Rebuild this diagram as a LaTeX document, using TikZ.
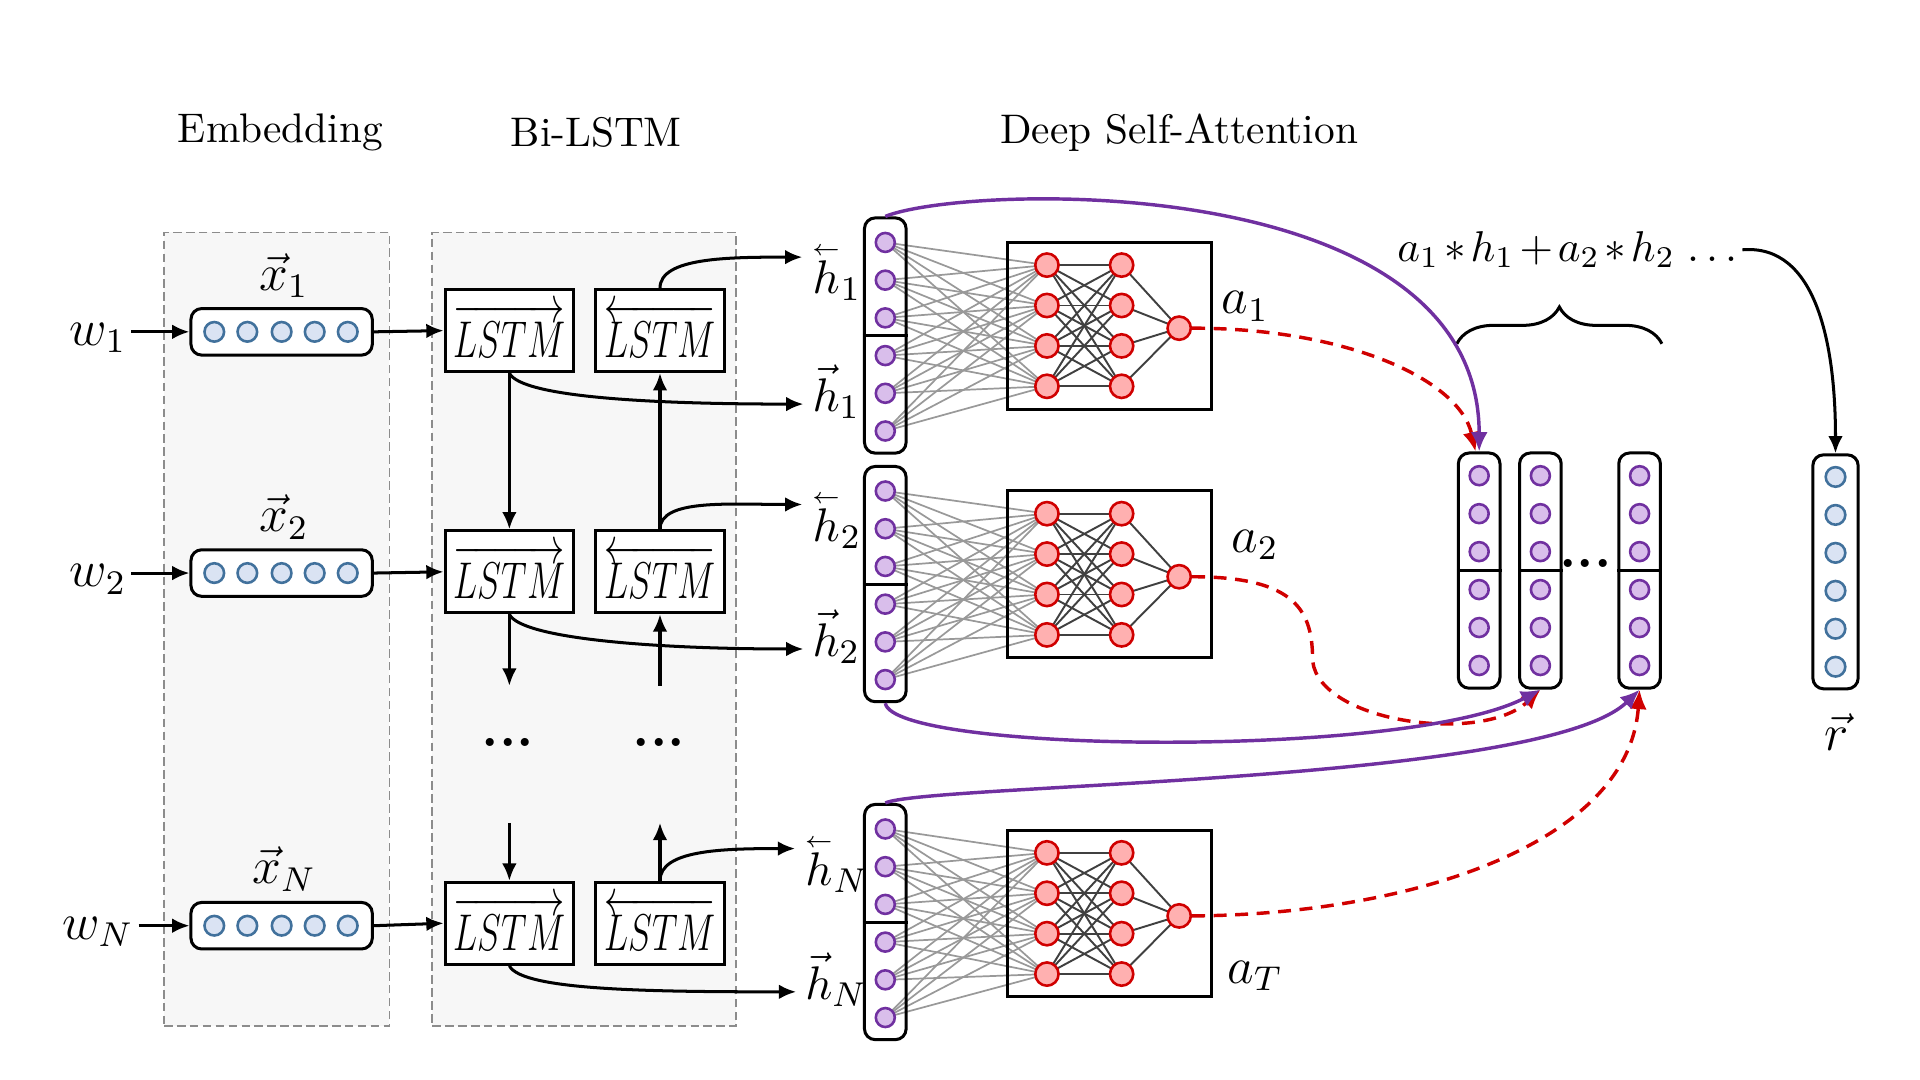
\documentclass[tikz,border=0pt]{standalone}
\usepackage{graphicx}
\usepackage{amsmath}
\usetikzlibrary{arrows.meta,decorations.pathreplacing,calc}
\definecolor{cblueF}{HTML}{DAE3F3}
\definecolor{cblueD}{HTML}{41719C}
\definecolor{cpurF}{HTML}{D9BEEB}
\definecolor{cpurD}{HTML}{7030A0}
\definecolor{credF}{HTML}{FFB0B0}
\definecolor{credD}{HTML}{D00000}
\definecolor{cregF}{HTML}{F7F7F7}
\pgfdeclarelayer{bg}
\pgfsetlayers{bg,main}
\newcommand{\lvec}[1]{\overset{\raisebox{-1.2pt}{$\scriptscriptstyle\leftarrow$}}{#1}}
\newcommand{\lstmtxt}[1]{\scalebox{0.7}[1]{\fontsize{12}{14}\selectfont$#1{LSTM}$}}
\begin{document}
\begin{tikzpicture}[x=0.01cm,y=-0.01cm,
  region/.style={draw=black!45, dash pattern=on 2pt off 1pt, fill=cregF, line width=0.4pt, inner sep=0},
  vecbox/.style={draw, fill=white, rounded corners=2.5pt, line width=0.7pt, minimum width=1.48cm, minimum height=0.38cm, inner sep=0},
  bcirc/.style={circle, draw=cblueD, fill=cblueF, line width=0.6pt, minimum size=0.16cm, inner sep=0},
  pcirc/.style={circle, draw=cpurD, fill=cpurF, line width=0.6pt, minimum size=0.155cm, inner sep=0},
  rcirc/.style={circle, draw=credD, fill=credF, line width=0.6pt, minimum size=0.19cm, inner sep=0},
  lstmbox/.style={draw, fill=white, line width=0.7pt, minimum width=1.05cm, minimum height=0.67cm, inner sep=0},
  nnbox/.style={draw, line width=0.7pt, minimum width=1.66cm, minimum height=1.36cm, inner sep=0},
  hcolbox/.style={draw, rounded corners=2.5pt, line width=0.7pt, minimum width=0.34cm, minimum height=1.92cm, inner sep=0},
  arr/.style={-{Latex[length=4pt,width=3.4pt]}, line width=0.7pt},
  parr/.style={-{Latex[length=4.5pt,width=4pt]}, draw=cpurD, line width=0.8pt},
  rarr/.style={-{Latex[length=4.5pt,width=4pt]}, draw=credD, line width=0.8pt, dash pattern=on 3pt off 2pt},
  title/.style={font=\fontsize{9.6}{12}\selectfont},
  lab/.style={font=\fontsize{12}{14}\selectfont, inner sep=1pt},
  hlab/.style={font=\fontsize{11}{13}\selectfont, inner sep=0.5pt},
  glink/.style={draw=black!40, line width=0.4pt},
  nlink/.style={draw=black!75, line width=0.45pt},
  dotsty/.style={font=\fontsize{13}{15}\selectfont\bfseries, inner sep=0}
]
\useasboundingbox (0,0) rectangle (1568,882);

% regions
\begin{pgfonlayer}{bg}
\node[region, minimum width=1.84cm, minimum height=6.48cm] (embreg) at (226,514) {};
\node[region, minimum width=2.48cm, minimum height=6.48cm] (lstmreg) at (477,514) {};
\end{pgfonlayer}

% titles
\node[title] (t1) at (229,108) {Embedding};
\node[title] (t2) at (487,108) {Bi-LSTM};
\node[title] (t3) at (963,108) {Deep Self-Attention};

% embedding rows
\foreach \r/\y/\wy in {1/271/276, 2/468/473, N/756/761}{
  \node[lab] (w\r) at (80,\wy) {$w_{\r}$};
  \node[vecbox] (vec\r) at (230,\y) {};
  \foreach \k/\xx in {1/175,2/202,3/230,4/257,5/284}{
    \node[bcirc] (e\r-\k) at (\xx,\y) {};
  }
  \node[lab] (x\r) at (232,\y-46) {$\vec{x}_{\r}$};
  \draw[arr] (w\r.east |- vec\r.west) -- (vec\r.west);
}

% LSTM boxes
\foreach \r/\y in {1/270, 2/467, N/754}{
  \node[lstmbox] (lf\r) at (416,\y) {\lstmtxt{\overrightarrow}};
  \node[lstmbox] (lb\r) at (539,\y) {\lstmtxt{\overleftarrow}};
  \draw[arr] (vec\r.east) -- (lf\r.west);
}
\draw[arr] (lf1.south) -- (lf2.north);
\draw[arr] (lb2.north) -- (lb1.south);
\coordinate (fA) at (416,560);
\coordinate (bA) at (539,560);
\coordinate (fB) at (416,672);
\coordinate (bB) at (539,672);
\draw[arr] (lf2.south) -- (fA);
\draw[arr] (bA) -- (lb2.south);
\draw[arr] (fB) -- (lfN.north);
\draw[arr] (lbN.north) -- (bB);
\node[dotsty] (dl) at (415,606) {...};
\node[dotsty] (dr) at (538,606) {...};

% h labels
\node[hlab] (hb1) at (683,222) {$\lvec{h}_1$};
\node[hlab] (hf1) at (683,320) {$\vec{h}_1$};
\node[hlab] (hb2) at (683,424) {$\lvec{h}_2$};
\node[hlab] (hf2) at (683,520) {$\vec{h}_2$};
\node[hlab] (hbN) at (683,705) {$\lvec{h}_N$};
\node[hlab] (hfN) at (683,800) {$\vec{h}_N$};

\foreach \r in {1,2,N}{
  \draw[arr] (lb\r.north) .. controls +(0,-25) and +(-60,0) .. ([xshift=-0.05cm,yshift=0.12cm]hb\r.west);
  \draw[arr] (lf\r.south) .. controls +(10,20) and +(-120,0) .. ([xshift=-0.05cm,yshift=-0.1cm]hf\r.west);
}

% h columns and NN blocks
\foreach \r/\t/\yc in {1/178/266, 2/381/469, N/657/746}{
  \node[hcolbox] (hcol\r) at (723,\t+96) {};
  \draw[line width=0.7pt] (hcol\r.west) -- (hcol\r.east);
  \foreach \k in {1,...,6}{
    \node[pcirc] (h\r-\k) at (723,\t+20+30.8*\k-30.8) {};
  }
  \node[nnbox] (nn\r) at (906,\yc) {};
  \foreach \k/\dy in {1/-49.5,2/-16.5,3/16.5,4/49.5}{
    \node[rcirc] (n\r-1-\k) at (855,\yc+\dy) {};
    \node[rcirc] (n\r-2-\k) at (916,\yc+\dy) {};
  }
  \node[rcirc] (o\r) at (963,\yc+2) {};
  \begin{pgfonlayer}{bg}
    \foreach \i in {1,...,6}{
      \foreach \j in {1,...,4}{
        \draw[glink] (h\r-\i.center) -- (n\r-1-\j.center);
      }
    }
    \foreach \i in {1,...,4}{
      \foreach \j in {1,...,4}{
        \draw[nlink] (n\r-1-\i.center) -- (n\r-2-\j.center);
      }
      \draw[nlink] (n\r-2-\i.center) -- (o\r.center);
    }
  \end{pgfonlayer}
}

\node[lab] (a1) at (1017,250) {$a_1$};
\node[lab] (a2) at (1025,445) {$a_2$};
\node[lab] (aT) at (1025,797) {$a_T$};

% right columns
\foreach \c/\x in {A/1208, B/1258, C/1339}{
  \node[hcolbox] (col\c) at (\x,466) {};
  \draw[line width=0.7pt] (col\c.west) -- (col\c.east);
  \foreach \k in {1,...,6}{
    \node[pcirc] (c\c-\k) at (\x,466-77.5+31*\k-31) {};
  }
}
\node[dotsty] (dright) at (1295,460) {...};

\node[hcolbox, minimum width=0.37cm, minimum height=1.91cm] (rbox) at (1499,467) {};
\foreach \k in {1,...,6}{
  \node[bcirc] (r-\k) at (1499,467-77.5+31*\k-31) {};
}
\node[lab] (rlab) at (1500,598) {$\vec{r}$};

% formula and brace
\node[font=\fontsize{10.2}{13}\selectfont, inner sep=1pt] (formula) at (1280,204)
  {\medmuskip=2mu $a_1 * h_1 + a_2 * h_2\;{\ldots}$};
\draw[decorate, decoration={brace, amplitude=0.3cm}, line width=0.7pt]
  ($(colA.north west)+(0,-88)$) -- ($(colC.north east)+(0,-88)$);
\draw[arr] (formula.east) .. controls +(60,-5) and +(0,-90) .. (rbox.north);

% attention connectors
\draw[rarr] (o1.east) .. controls (1100,268) and (1192,310) .. ([xshift=-0.03cm]colA.north);
\draw[parr] (hcol1.north) .. controls (790,150) and (1208,138) .. (colA.north);
\draw[rarr] (o2.east) .. controls (1060,471) and (1072,500) .. (1072,540) .. controls (1078,590) and (1210,608) .. (colB.south);
\draw[parr] (hcol2.south) .. controls (730,615) and (1150,620) .. (colB.south);
\draw[rarr] (oN.east) .. controls (1150,747) and (1330,690) .. (colC.south);
\draw[parr] (hcolN.north) .. controls (760,640) and (1260,640) .. (colC.south);
\end{tikzpicture}
\end{document}
